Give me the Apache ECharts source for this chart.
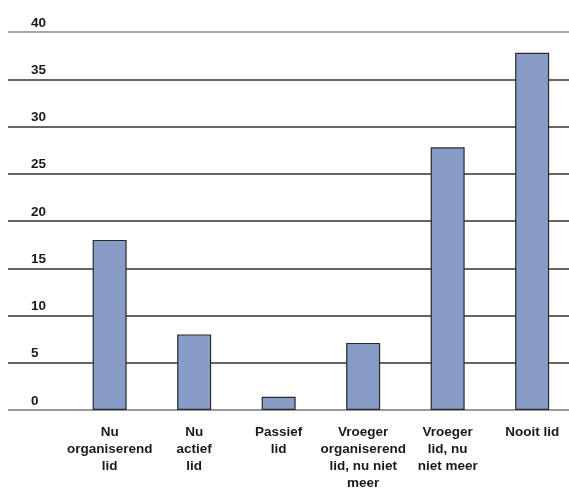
<!DOCTYPE html>
<html>
<head>
<meta charset="utf-8">
<script src="https://cdn.jsdelivr.net/npm/echarts@6/dist/echarts.min.js"></script>
<style>
html,body{margin:0;padding:0;background:#fff;overflow:hidden;}
#c{width:576px;height:489px;}
</style>
</head>
<body>
<div id="c"></div>
<script>
var categories = ["Nu\norganiserend\nlid", "Nu\nactief\nlid", "Passief\nlid", "Vroeger\norganiserend\nlid, nu niet\nmeer", "Vroeger\nlid, nu\nniet meer", "Nooit lid"];
var values = [18, 8, 1.4, 7.1, 27.8, 37.8];
var yTicks = [0, 5, 10, 15, 20, 25, 30, 35, 40];

var font = "'Liberation Sans', Arial, Helvetica, sans-serif";
var chart = echarts.init(document.getElementById('c'), null, {renderer: 'canvas'});
chart.setOption({
  animation: false,
  backgroundColor: '#fff',
  grid: [
    {left: 8, right: 7, top: 32, bottom: 79, containLabel: false, outerBoundsMode: 'none'},
    {left: 67.4, width: 507, top: 32, bottom: 79, containLabel: false, outerBoundsMode: 'none'}
  ],
  xAxis: [
    {gridIndex: 0, type: 'value', show: false, min: 0, max: 1},
    {gridIndex: 1, type: 'category', data: categories,
      axisLine: {show: false}, axisTick: {show: false},
      axisLabel: {interval: 0, margin: 14, color: '#1a1a1a', fontFamily: font, fontWeight: 'bold', fontSize: 13.5, lineHeight: 17, verticalAlign: 'top'}}
  ],
  yAxis: [
    {gridIndex: 0, type: 'value', min: yTicks[0], max: yTicks[yTicks.length - 1], interval: 5,
      axisLine: {show: false}, axisTick: {show: false},
      axisLabel: {inside: true, margin: 23, color: '#1a1a1a', fontFamily: font, fontWeight: 'bold', fontSize: 13.5, verticalAlign: 'bottom', padding: [0, 0, 2, 0]},
      splitLine: {show: true, lineStyle: {width: 1.5, color: ['#777', '#333', '#333', '#333', '#333', '#333', '#333', '#333', '#888']}}},
    {gridIndex: 1, type: 'value', min: 0, max: 40, interval: 5, show: false, splitLine: {show: false}}
  ],
  series: [{
    type: 'bar', xAxisIndex: 1, yAxisIndex: 1, data: values, barWidth: 34,
    itemStyle: {color: '#879cc6', borderColor: '#2a2a2a', borderWidth: 1.2}
  }]
});
</script>
</body>
</html>
